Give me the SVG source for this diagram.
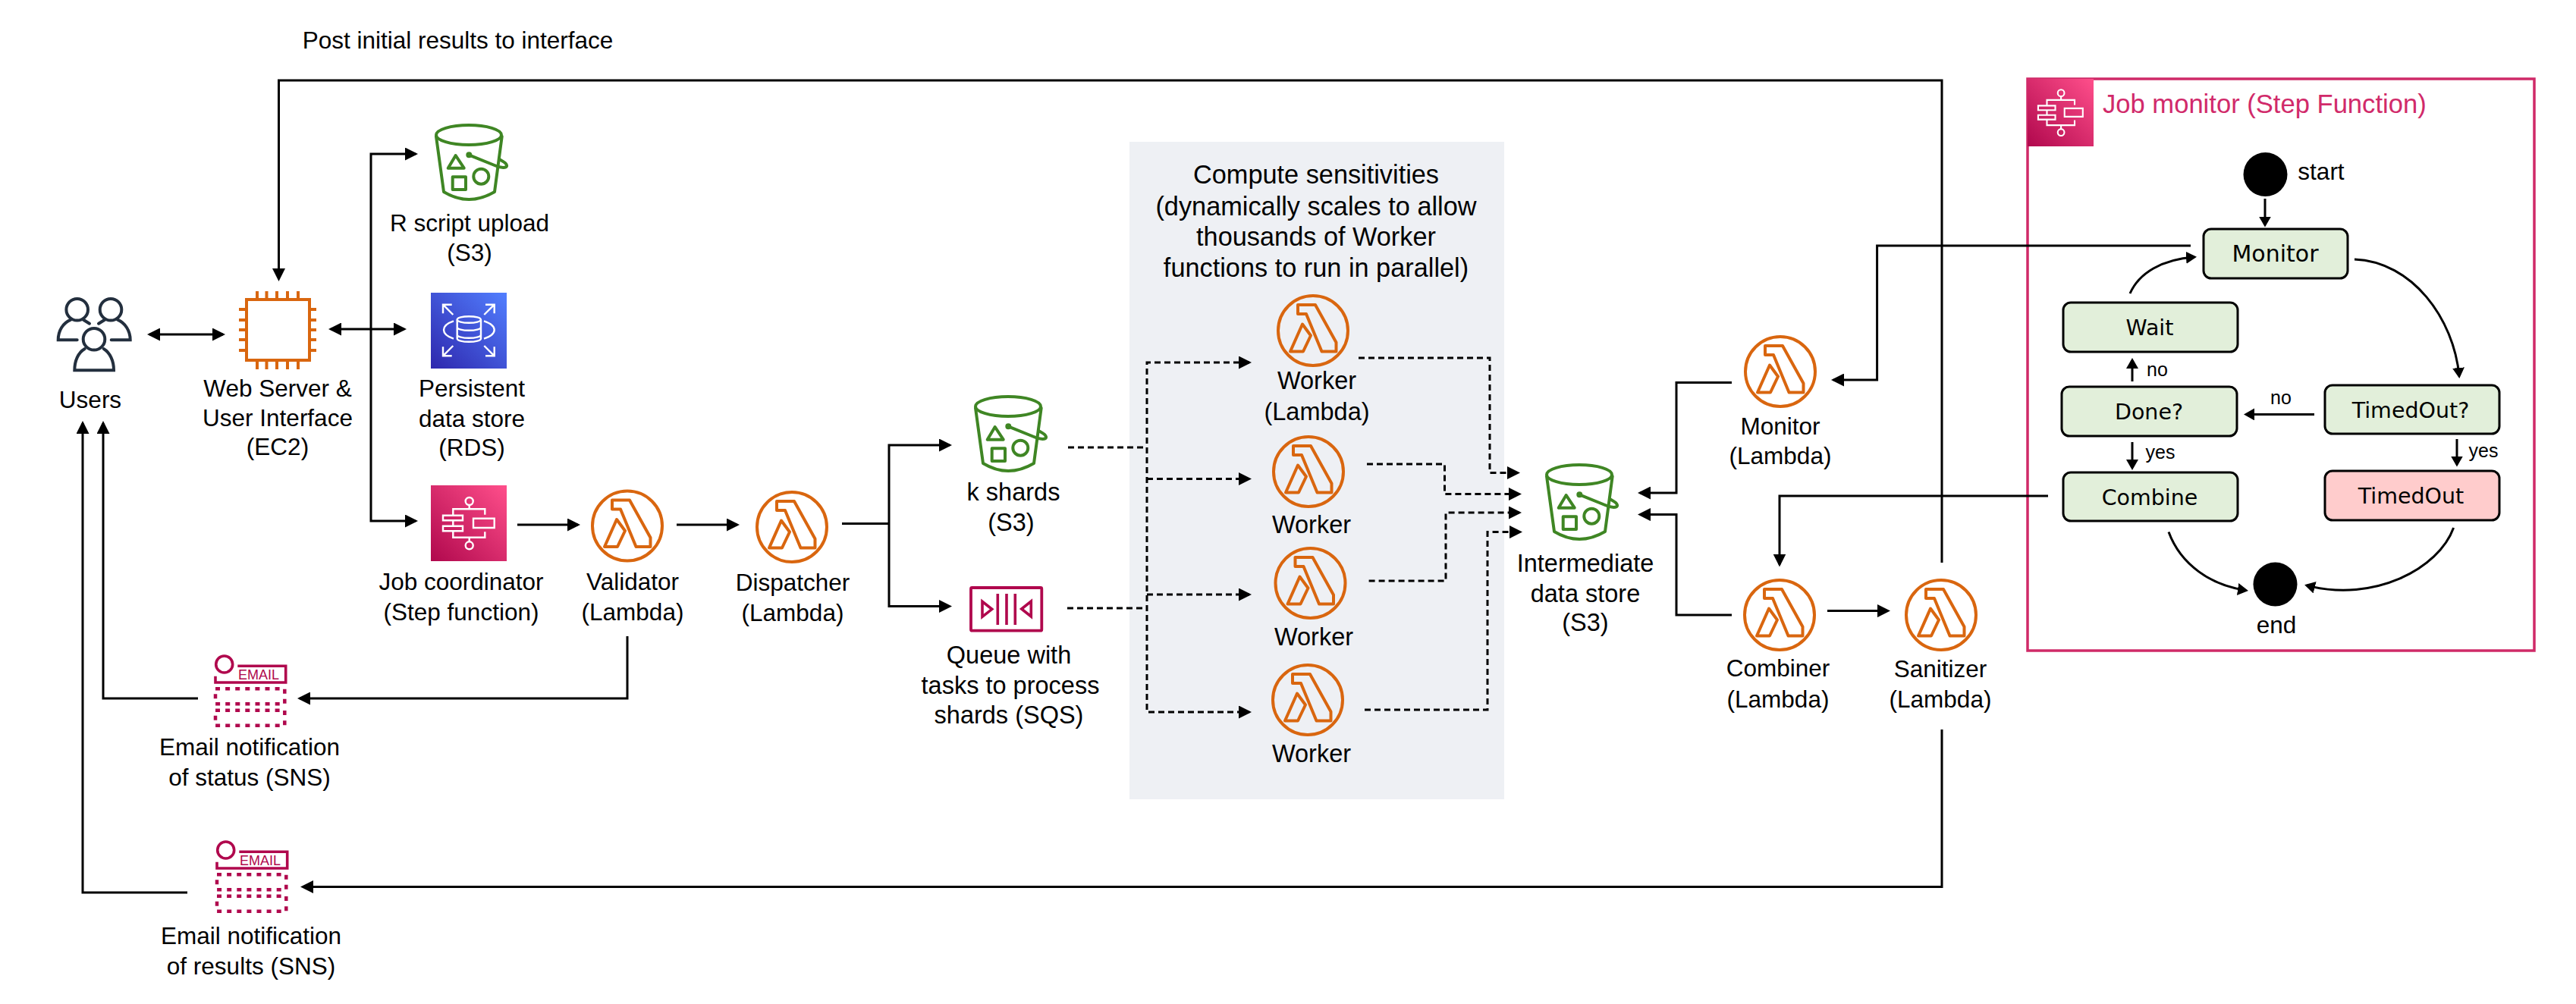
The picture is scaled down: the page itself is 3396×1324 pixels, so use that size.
<svg xmlns="http://www.w3.org/2000/svg" xmlns:xlink="http://www.w3.org/1999/xlink" width="3396" height="1324" viewBox="0 0 3396 1324">
<style>
text{font-family:"Liberation Sans",Arial,sans-serif;font-size:31.5px;fill:#000;text-anchor:middle}
.ttl{font-size:34.600px;fill:#D12A6A;text-anchor:start}
.big{font-size:34.300px}
.mid{font-size:32.500px}
.st{font-family:"DejaVu Sans",sans-serif;font-size:28.5px}
.sm{font-size:25px}
.em{font-size:18px;fill:#B0084D}
.c{fill:none;stroke:#000;stroke-width:3}
.m{marker-end:url(#ah)}
.b{marker-start:url(#ah);marker-end:url(#ah)}
.d{stroke-dasharray:8 5}
.s{fill:none;stroke:#000;stroke-width:3;marker-end:url(#as)}
.box{fill:#E2EFDA;stroke:#000;stroke-width:3}
.w{fill:none;stroke:#fff;stroke-width:2.4}
.g{fill:none;stroke:#3F8624;stroke-width:4;stroke-linejoin:round;stroke-linecap:round}
.o{fill:none;stroke:#D9660F;stroke-width:4}
.p{fill:none;stroke:#B0084D;stroke-width:3.6}
.u{fill:none;stroke:#232F3E;stroke-width:4;stroke-linecap:round}
</style>
<defs>
<marker id="ah" markerUnits="userSpaceOnUse" viewBox="0 0 17 17" markerWidth="17" markerHeight="17" refX="14" refY="8.5" orient="auto-start-reverse"><path d="M0 0L17 8.5L0 17Z" fill="#000"/></marker>
<marker id="as" markerUnits="userSpaceOnUse" viewBox="0 0 14 16" markerWidth="14" markerHeight="16" refX="11" refY="8" orient="auto"><path d="M0 0L14 8L0 16Z" fill="#000"/></marker>
<linearGradient id="gr" x1="0" y1="1" x2="1" y2="0"><stop offset="0" stop-color="#B0084D"/><stop offset="1" stop-color="#FF4F8B"/></linearGradient>
<linearGradient id="gb" x1="0" y1="1" x2="1" y2="0"><stop offset="0" stop-color="#2E27AD"/><stop offset="1" stop-color="#527FFF"/></linearGradient>
<g id="lambda">
<circle r="46" class="o"/>
<path class="o" stroke-linejoin="round" d="M-20 -34H3L30.5 15.5V27.5H11.5L-9 -22H-20ZM-30 27.5L-14 -8.5L-3 6.5L-13 27.5Z"/>
</g>
<g id="bucket">
<ellipse cx="45" cy="15" rx="43" ry="13" class="g"/>
<path class="g" d="M2 17L12 90Q45 110 79 90L88.700 17"/>
<path class="g" d="M27.700 42L17.700 58.700H38.700ZM23.700 70.300H41V87H23.700Z"/>
<circle cx="61.300" cy="69.700" r="10" class="g"/>
<circle cx="45.300" cy="41.300" r="3" fill="#3F8624" stroke="#3F8624" stroke-width="2"/>
<path class="g" d="M45.300 41.300L79 55C87 59 96 59 95 55C94 51 88 49 85 47"/>
</g>
<g id="stepicon">
<rect width="100" height="100" fill="url(#gr)"/>
<circle cx="50.700" cy="21" r="5" class="w"/>
<circle cx="50.700" cy="79.300" r="5" class="w"/>
<path class="w" d="M50.700 26V31.300M29.300 39.700V31.300H71.300V38.700M16 39.700H42V46.300H16ZM16 53.700H42V60.300H16ZM29.300 46.300V53.700M29.300 60.300V68.700H71.300V61.300M50.700 68.700V74.300M56 43.700H83.700V56H56Z"/>
</g>
<g id="sns">
<circle cx="13.700" cy="13" r="11" class="p"/>
<path class="p" d="M31.300 15.300H94.700V37H2V28.700"/>
<g class="p" stroke-dasharray="6 7.100" style="stroke-width:4.5"><rect x="2" y="45.300" width="91.300" height="20"/><rect x="2" y="73.700" width="91.300" height="20"/></g>
</g>
</defs>

<rect id="panel" x="1489" y="187" width="494" height="867" fill="#EEF0F4"/>
<rect id="monitorbox" x="2673" y="104" width="668" height="754" fill="none" stroke="#CF2A68" stroke-width="3.5"/>

<g id="connectors">
<path class="c m" d="M2560 742V106H367.500V368"/>
<path class="c b" d="M197 441H294"/>
<path class="c b" d="M436 434H533"/>
<path class="c b" d="M548 203H489V687H548"/>
<path class="c m" d="M682 692H762"/>
<path class="c m" d="M892 692H972"/>
<path class="c" d="M1110 690.500H1172"/>
<path class="c b" d="M1252 587H1172V799.500H1252"/>
<path class="c m" d="M827 839V921H395"/>
<path class="c m" d="M261 921H136V558"/>
<path class="c m" d="M247 1177H109V558"/>
<path class="c m" d="M2560 962V1169.500H399"/>
<path class="c d" d="M1408 590H1512"/>
<path class="c d" d="M1407 802H1512"/>
<path class="c d b" d="M1647 478H1512V939H1647"/>
<path class="c d m" d="M1512 631.500H1647"/>
<path class="c d m" d="M1512 784H1647"/>
<path class="c d m" d="M1791 472H1964V623.500H2001"/>
<path class="c d m" d="M1802 612H1904.500V651.600H2003"/>
<path class="c d m" d="M1804.600 766H1906V676H2003"/>
<path class="c d m" d="M1799 936H1961V701.600H2004"/>
<path class="c m" d="M2283 504.600H2210V650H2162"/>
<path class="c m" d="M2283 811H2210V678.600H2162"/>
<path class="c m" d="M2409 805.600H2489"/>
<path class="c m" d="M2888 324H2474.600V501H2417"/>
<path class="c m" d="M2700 654H2346V744.500"/>
<path class="s" d="M2986 262V296.600"/>
<path class="s" d="M3104 342C3180 345 3235 420 3242 496"/>
<path class="s" d="M2808 387C2820 360 2850 342 2893 339"/>
<path class="s" d="M2811 503V475"/>
<path class="s" d="M3051 546.400H2961"/>
<path class="s" d="M2811 583V617"/>
<path class="s" d="M3239 579V612.500"/>
<path class="s" d="M2859 701.600C2875 745 2915 772 2961 778.500"/>
<path class="s" d="M3234.600 696C3215 750 3130 795 3041 772"/>
</g>

<text id="post-label" x="603.500" y="64">Post initial results to interface</text>

<g id="users">
<g class="u">
<circle cx="101.700" cy="408.300" r="14.300"/><circle cx="146" cy="408.300" r="14.300"/><circle cx="124" cy="447.300" r="14.300"/>
<path d="M101.700 448.300H76.700C76.700 436 83 426 93.300 421.700M110 421.700L118 426.700M146.700 448.300H171.700C171.700 436 165 426 155 421.700M138 421.700L130 426.700M111.700 460C103 465 98.300 476 98.300 488.300H150C150 476 145 465 136.700 460"/>
</g>
<text x="119" y="538">Users</text>
</g>

<g id="ec2">
<rect x="325" y="395" width="83" height="80" class="o"/>
<path class="o" d="M339 384V395M351.500 384V395M365 384V395M379 384V395M393 384V395M339 475V487M351.500 475V487M365 475V487M379 475V487M393 475V487M315 408H325M315 422H325M315 435H325M315 448H325M315 462H325M408 408H417M408 422H417M408 435H417M408 448H417M408 462H417"/>
<text x="366" y="523">Web Server &amp;</text><text x="366" y="562">User Interface</text><text x="366" y="600">(EC2)</text>
</g>

<g id="s3-upload">
<use href="#bucket" x="573" y="163"/>
<text x="619" y="305">R script upload</text><text x="619" y="344">(S3)</text>
</g>

<g id="rds">
<rect x="568" y="386" width="100" height="100" fill="url(#gb)"/>
<g transform="translate(568 386)" class="w">
<ellipse cx="50.300" cy="35.500" rx="15.600" ry="4.300"/>
<path d="M34.700 35.500V60.500C34.700 63 42 64.800 50.300 64.800S66 63 66 60.500V35.500M34.700 45.500C34.700 48 42 49.800 50.300 49.800S66 48 66 45.500M34.700 55.500C34.700 58 42 59.800 50.300 59.800S66 58 66 55.500"/>
<path d="M30 37.300C22 40 17 44 17 49S22 58 30 60.700M70 37.300C78 40 83.700 44 83.700 49S78 58 70 60.700"/>
<path d="M29.300 29L16 15.700M16 27.300V15.700H27.700M70.300 29L83.700 15.700M72 15.700H83.700V27.300M29.300 70L16 83.300M16 71.300V83.300H27.700M70.300 70L83.700 83.300M72 83.300H83.700V71.300"/>
</g>
<text x="622" y="523">Persistent</text><text x="622" y="563">data store</text><text x="622" y="601">(RDS)</text>
</g>

<g id="job-coordinator">
<use href="#stepicon" x="568" y="640"/>
<text x="608" y="778">Job coordinator</text><text x="608" y="817.500">(Step function)</text>
</g>

<g id="validator">
<use href="#lambda" x="827" y="693.500"/>
<text x="834" y="778">Validator</text><text x="834" y="817.500">(Lambda)</text>
</g>

<g id="dispatcher">
<use href="#lambda" x="1044" y="695"/>
<text x="1045" y="778.500">Dispatcher</text><text x="1045" y="818.500">(Lambda)</text>
</g>

<g id="sns-status">
<use href="#sns" x="282" y="863"/>
<text class="em" x="341" y="895.700">EMAIL</text>
<text x="329" y="995.500">Email notification</text><text x="329" y="1035.500">of status (SNS)</text>
</g>

<g id="sns-results">
<use href="#sns" x="284" y="1108"/>
<text class="em" x="343" y="1140.700">EMAIL</text>
<text x="331" y="1245">Email notification</text><text x="331" y="1284.500">of results (SNS)</text>
</g>

<g id="k-shards">
<use href="#bucket" x="1284" y="521"/>
<text class="mid" x="1336" y="660">k shards</text><text class="mid" x="1333" y="700">(S3)</text>
</g>

<g id="queue">
<rect x="1280" y="775" width="93.300" height="56.700" rx="1.500" class="p" style="stroke-width:3.800"/>
<path class="p" d="M1315.300 783V824M1327 783V824M1338.300 783V824M1295 793.300V813.300L1307.700 803.300ZM1359.300 793V813L1346.700 803Z"/>
<text class="mid" x="1330" y="875">Queue with</text><text class="mid" x="1332" y="915">tasks to process</text><text class="mid" x="1330" y="954">shards (SQS)</text>
</g>

<g id="compute-label">
<text class="big" x="1735" y="242">Compute sensitivities</text><text class="big" x="1735" y="284">(dynamically scales to allow</text><text class="big" x="1735" y="324">thousands of Worker</text><text class="big" x="1735" y="365">functions to run in parallel)</text>
</g>

<g id="worker1"><use href="#lambda" x="1731" y="436"/><text class="mid" x="1736" y="513">Worker</text><text class="mid" x="1736" y="554">(Lambda)</text></g>
<g id="worker2"><use href="#lambda" x="1725" y="622"/><text class="mid" x="1729" y="703">Worker</text></g>
<g id="worker3"><use href="#lambda" x="1727.500" y="769"/><text class="mid" x="1732" y="851">Worker</text></g>
<g id="worker4"><use href="#lambda" x="1724" y="923"/><text class="mid" x="1729" y="1004.500">Worker</text></g>

<g id="intermediate">
<use href="#bucket" x="2037" y="611"/>
<text class="mid" x="2090" y="753.500">Intermediate</text><text class="mid" x="2090" y="793.500">data store</text><text class="mid" x="2090" y="832">(S3)</text>
</g>

<g id="monitor-lambda"><use href="#lambda" x="2347" y="490"/><text x="2347" y="572.500">Monitor</text><text x="2347" y="612">(Lambda)</text></g>
<g id="combiner"><use href="#lambda" x="2346" y="811"/><text x="2344" y="892">Combiner</text><text x="2344" y="933">(Lambda)</text></g>
<g id="sanitizer"><use href="#lambda" x="2559" y="811"/><text x="2558" y="892.500">Sanitizer</text><text x="2558" y="933">(Lambda)</text></g>

<g id="job-monitor-title">
<use href="#stepicon" transform="translate(2673 104) scale(.87 .89)"/>
<text class="ttl" x="2772" y="149.400">Job monitor (Step Function)</text>
</g>

<g id="start"><circle cx="2986.500" cy="230" r="29"/><text x="3060" y="237">start</text></g>
<g id="end"><circle cx="2999.500" cy="770.500" r="29"/><text x="3001" y="835">end</text></g>
<g id="state-monitor"><rect class="box" x="2905" y="302" width="190" height="65" rx="10"/><text class="st" style="font-size:30px" x="2999.500" y="345">Monitor</text></g>
<g id="state-wait"><rect class="box" x="2720" y="399" width="230" height="65" rx="10"/><text class="st" x="2834" y="442">Wait</text></g>
<g id="state-done"><rect class="box" x="2718" y="510" width="231" height="65" rx="10"/><text class="st" x="2833" y="553">Done?</text></g>
<g id="state-combine"><rect class="box" x="2720" y="623" width="230" height="64" rx="10"/><text class="st" x="2834" y="665.500">Combine</text></g>
<g id="state-timedoutq"><rect class="box" x="3065" y="508" width="230" height="64" rx="10"/><text class="st" x="3178" y="550.500">TimedOut?</text></g>
<g id="state-timedout"><rect class="box" style="fill:#FFCCCC" x="3065" y="621" width="230" height="65" rx="10"/><text class="st" x="3178.500" y="663.500">TimedOut</text></g>
<g id="state-labels">
<text class="sm" x="2844" y="495.500">no</text>
<text class="sm" x="3007" y="533">no</text>
<text class="sm" x="2848" y="605">yes</text>
<text class="sm" x="3274" y="603">yes</text>
</g>
</svg>
